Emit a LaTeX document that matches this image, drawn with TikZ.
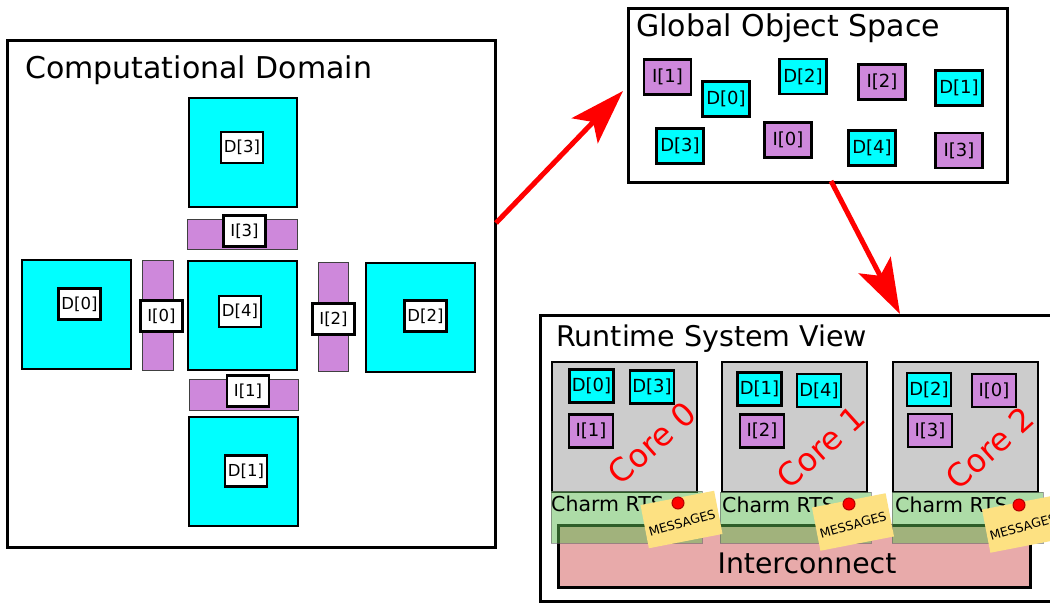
\documentclass[tikz,border=0pt]{standalone}
\usepackage{fontspec}
\setmainfont{DejaVu Sans}
\usetikzlibrary{arrows.meta}
\newcommand\myfs[1]{\fontsize{#1}{#1}\selectfont}
\definecolor{cyanc}{HTML}{00FFFF}
\definecolor{purp}{HTML}{CE88DB}
\definecolor{grayc}{HTML}{CCCCCC}
\definecolor{greenc}{HTML}{5CBB50}
\definecolor{pinkc}{HTML}{E8AAAA}
\definecolor{notec}{HTML}{FDE182}
\definecolor{redc}{HTML}{FF0000}
\tikzset{
  frame/.style={draw=black, line width=3pt, fill=white},
  dombox/.style={draw=black, fill=cyanc, line width=2pt, inner sep=0pt},
  bar/.style={draw=black!75, fill=purp, line width=1pt, inner sep=0pt},
  lbl/.style={draw=black, fill=white, line width=2.2pt, inner sep=0pt, minimum width=42pt, minimum height=31pt, font=\myfs{16.5}},
  gd/.style={draw=black, fill=cyanc, line width=2.5pt, inner sep=0pt, minimum width=47pt, minimum height=35pt, font=\myfs{18}},
  gi/.style={gd, fill=purp},
  cd/.style={draw=black, fill=cyanc, line width=2.5pt, inner sep=0pt, minimum width=44pt, minimum height=33pt, font=\myfs{18}},
  ci/.style={cd, fill=purp},
  core/.style={draw=black, fill=grayc, line width=2.5pt},
  rts/.style={draw=black!60, fill=greenc, fill opacity=0.5, draw opacity=0.6, line width=1pt},
  title/.style={anchor=base west, inner sep=0pt, font=\myfs{30}},
  coretxt/.style={text=redc, rotate=42, font=\myfs{32}, inner sep=0pt},
  note/.style={fill=notec, rotate=11, minimum width=75pt, minimum height=44pt, inner sep=0pt},
  notetxt/.style={rotate=16, font=\myfs{12.5}, inner sep=0pt},
  dot/.style={circle, fill=redc, draw=red!70!black, line width=1pt, minimum size=12pt, inner sep=0pt},
  rtstxt/.style={anchor=base west, inner sep=0pt, font=\myfs{20.5}},
  bigarrow/.style={draw=redc, line width=5pt, -{Stealth[length=55pt, width=36pt, inset=12pt]}}
}
\begin{document}
\begin{tikzpicture}[x=1pt, y=-1pt]
\useasboundingbox (0,0) rectangle (1050,603);
\clip (0,0) rectangle (1050,603);
\fill[white] (0,0) rectangle (1050,603);

% ---------- Computational Domain ----------
\draw[frame] (7,40) rectangle (495,547);
\node[title] (tcd) at (25,78) {Computational Domain};

\node[dombox, minimum width=108pt, minimum height=109pt] (d3) at (243,152.5) {};
\node[lbl] (ld3) at (242,147.5) {D[3]};
\node[bar, minimum width=110pt, minimum height=30pt] (i3) at (242,234) {};
\node[lbl] (li3) at (244.5,231) {I[3]};

\node[dombox, minimum width=109pt, minimum height=109pt] (d0) at (76.5,314.5) {};
\node[lbl] (ld0) at (79.5,304) {D[0]};
\node[bar, minimum width=31pt, minimum height=110pt] (i0) at (157.5,315) {};
\node[lbl] (li0) at (161.5,316) {I[0]};
\node[dombox, minimum width=109pt, minimum height=109pt] (d4) at (242.5,315.5) {};
\node[lbl] (ld4) at (240,311.5) {D[4]};
\node[bar, minimum width=30pt, minimum height=109pt] (i2) at (333,316.5) {};
\node[lbl] (li2) at (333.5,319) {I[2]};
\node[dombox, minimum width=109pt, minimum height=109pt] (d2) at (420.5,317.5) {};
\node[lbl] (ld2) at (425.5,316) {D[2]};

\node[bar, minimum width=109pt, minimum height=31pt] (i1) at (243.5,394.5) {};
\node[lbl] (li1) at (248,391) {I[1]};
\node[dombox, minimum width=109pt, minimum height=109pt] (d1) at (243.5,471.5) {};
\node[lbl] (ld1) at (246,471) {D[1]};

% ---------- Global Object Space ----------
\draw[frame] (628,8) rectangle (1007,182);
\node[title] (tgos) at (636,36) {Global Object Space};
\node[gi] (gi1) at (667.5,77) {I[1]};
\node[gd] (gd0) at (726,99) {D[0]};
\node[gd] (gd2) at (803,76.5) {D[2]};
\node[gi] (gi2) at (882,82) {I[2]};
\node[gd] (gd1) at (959,88) {D[1]};
\node[gd] (gd3) at (680,146) {D[3]};
\node[gi] (gi0) at (788,140) {I[0]};
\node[gd] (gd4) at (872,148) {D[4]};
\node[gi] (gi3) at (959,150.5) {I[3]};

% ---------- Runtime System View ----------
\draw[frame] (540,315) rectangle (1080,601);
\node[title, font=\myfs{28.5}] (trsv) at (556,346) {Runtime System View};

\draw[draw=black, fill=pinkc, line width=3pt] (558,525) rectangle (1030,587);
\node[anchor=base, inner sep=0pt, font=\myfs{28.3}] (ic) at (807,573) {Interconnect};

\draw[core] (552,362) rectangle (697,492);
\draw[core] (722,362) rectangle (867,492);
\draw[core] (893,362) rectangle (1038,492);

\node[cd] (c0d0) at (591.5,386) {D[0]};
\node[cd] (c0d3) at (652,387) {D[3]};
\node[ci] (c0i1) at (591,431) {I[1]};
\node[cd] (c1d1) at (759.5,389) {D[1]};
\node[cd] (c1d4) at (819,390.5) {D[4]};
\node[ci] (c1i2) at (762,431) {I[2]};
\node[cd] (c2d2) at (929,389.5) {D[2]};
\node[ci] (c2i0) at (994,390.5) {I[0]};
\node[ci] (c2i3) at (930,430.5) {I[3]};

\node[coretxt] (k0) at (652,443) {Core 0};
\node[coretxt] (k1) at (821,447) {Core 1};
\node[coretxt] (k2) at (990,448) {Core 2};

\draw[rts] (551,491) rectangle (702,543);
\draw[rts] (720,492) rectangle (871,543);
\draw[rts] (892,492) rectangle (1043,543);

\node[rtstxt] (r0) at (551,511) {Charm RTS};
\node[rtstxt] (r1) at (722,512) {Charm RTS};
\node[rtstxt] (r2) at (895,512) {Charm RTS};

\node[note] (n0) at (681.5,519.5) {};
\node[notetxt] (m0) at (682,523) {MESSAGES};
\node[note] (n1) at (853,522) {};
\node[notetxt] (m1) at (853,525) {MESSAGES};
\node[note] (n2) at (1023,524) {};
\node[notetxt] (m2) at (1023,527) {MESSAGES};

\node[dot] (p0) at (678,503) {};
\node[dot] (p1) at (849,504) {};
\node[dot] (p2) at (1019,505) {};

% ---------- Arrows ----------
\coordinate (a1s) at (496,223);
\coordinate (a1e) at (623,91);
\coordinate (a2s) at (831,181);
\coordinate (a2e) at (900,314);
\draw[bigarrow] (a1s) -- (a1e);
\draw[bigarrow] (a2s) -- (a2e);
\end{tikzpicture}
\end{document}
